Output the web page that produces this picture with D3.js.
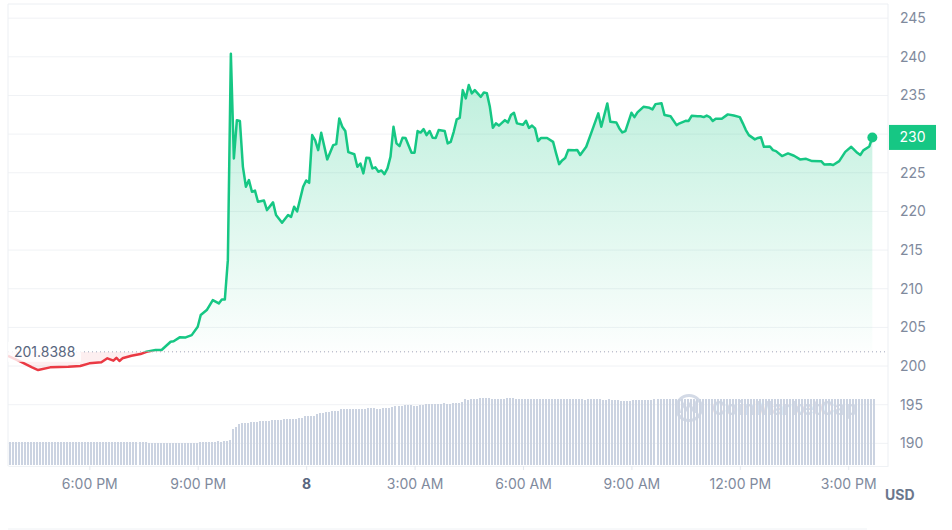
<!DOCTYPE html>
<html>
<head>
<meta charset="utf-8">
<script src="https://cdn.jsdelivr.net/npm/d3@7"></script>
<style>
  html, body { margin: 0; padding: 0; background: #fff; }
  svg { display: block; font-family: Inter, "Noto Sans", sans-serif; }
</style>
</head>
<body>
<div id="chart"></div>
<script>
// price points (clock time, USD) - 7th 15:45 to 8th 15:40
const priceTimes = [
  "15:45","16:05","16:25","16:35","16:55","17:25","17:45","18:00","18:20","18:30","18:40","18:45","18:50","18:55",
  "19:10","19:25","19:35","19:50","20:00","20:15","20:20","20:30","20:40","20:50","21:00","21:05","21:15","21:25",
  "21:35","21:40","21:45","21:50","21:55","22:00","22:05","22:10","22:15","22:20","22:25","22:30","22:35","22:40",
  "22:50","22:55","23:05","23:10","23:20","23:30","23:35","23:40","23:45","23:55","00:00","00:05","00:10","00:15",
  "00:20","00:25","00:35","00:45","00:50","00:55","01:00","01:05","01:10","01:20","01:25","01:30","01:35","01:40",
  "01:45","01:50","01:55","02:00","02:05","02:10","02:15","02:20","02:25","02:30","02:35","02:40","02:45","02:55",
  "03:00","03:05","03:10","03:15","03:20","03:25","03:30","03:35","03:40","03:50","03:55","04:00","04:05","04:10",
  "04:15","04:20","04:25","04:30","04:35","04:40","04:50","04:55","05:00","05:05","05:10","05:15","05:20","05:30",
  "05:35","05:40","05:45","05:50","06:00","06:05","06:10","06:15","06:20","06:25","06:30","06:40","06:50","06:55",
  "07:00","07:05","07:10","07:15","07:25","07:30","07:35","07:45","07:55","08:05","08:10","08:20","08:25","08:35",
  "08:40","08:45","08:50","09:00","09:05","09:10","09:20","09:30","09:35","09:40","09:50","09:55","10:05","10:15",
  "10:20","10:30","10:35","10:40","10:50","10:55","11:00","11:05","11:10","11:15","11:20","11:30","11:40","11:50",
  "12:00","12:05","12:10","12:15","12:25","12:30","12:35","12:40","12:50","12:55","13:00","13:10","13:20","13:30",
  "13:40","13:50","14:00","14:15","14:20","14:30","14:35","14:45","14:55","15:05","15:15","15:20","15:25","15:35",
  "15:40"
];
const prices = [
  201.3,200.6,199.83,199.48,199.83,199.9,200.0,200.35,200.48,201.0,200.69,201.07,200.65,201.0,
  201.33,201.55,201.85,202.07,202.07,203.14,203.2,203.71,203.7,204.0,205.08,206.6,207.24,208.53,
  208.1,208.6,208.6,213.7,240.4,226.86,231.8,231.7,225.77,223.19,224.05,222.54,222.7,221.25,
  221.4,220.17,221.17,219.53,218.53,219.53,219.3,220.6,220.0,223.19,224.0,223.7,229.87,229.2,
  227.93,230.17,226.73,228.58,228.7,232.03,230.95,230.4,227.67,227.4,225.77,226.2,224.92,226.94,
  226.9,225.57,225.7,225.13,225.3,224.83,225.57,227.07,230.95,228.8,228.45,229.52,229.5,227.58,
  227.6,230.39,230.2,230.65,229.87,230.39,229.52,229.5,230.52,230.4,228.8,229.0,230.3,231.9,
  232.1,235.69,234.62,236.34,235.26,235.69,234.82,235.39,235.3,233.53,230.82,231.39,231.1,231.81,
  231.5,232.46,232.76,231.39,231.2,231.72,230.8,231.1,230.74,229.1,229.5,229.5,229.0,227.5,
  226.12,226.6,226.9,227.93,227.9,227.95,227.3,228.36,230.52,232.68,230.95,233.97,231.59,231.5,
  230.74,230.22,230.4,232.76,232.2,232.81,233.53,233.4,233.2,233.88,234.0,232.46,232.3,231.16,
  231.4,231.72,231.7,232.37,232.3,232.3,232.2,232.4,232.2,231.7,232.0,232.0,232.55,232.4,
  232.2,231.39,230.52,229.87,229.32,229.5,229.6,228.36,228.4,227.93,227.8,227.16,227.5,227.2,
  226.73,226.8,226.51,226.5,226.08,226.1,226.0,226.5,227.7,228.36,227.58,227.3,227.9,228.4,
  229.57
];

// 24h volume (millions USD), one bar per 5 minutes from 15:45
const volumes = [
  115,115,115,115,115,115,115,115,115,115,115,115,115,115,115,115,115,115,115,115,115,115,115,115,
  115,115,115,115,115,115,115,115,115,115,115,115,115,115,115,115,115,115,115,115,115,115,110,110,
  110,110,110,110,110,110,110,110,110,110,110,110,110,110,110,115,115,115,115,115,115,120,115,120,
  120,125,180,190,205,210,210,210,215,215,215,220,220,220,220,225,225,225,225,230,230,230,230,230,
  235,235,245,245,245,245,255,260,260,265,265,270,270,270,280,280,280,280,280,280,280,280,280,285,
  285,285,280,280,285,285,285,290,295,295,295,300,300,300,295,295,300,300,305,305,305,305,305,305,
  310,305,305,310,310,310,315,330,325,330,330,330,335,335,335,335,330,330,330,330,330,335,335,335,
  330,330,330,330,330,330,330,330,330,330,330,330,330,330,330,330,330,330,330,330,330,330,330,325,
  330,330,330,330,330,325,325,330,325,325,325,320,320,320,320,325,325,325,325,325,325,325,330,330,
  330,330,330,330,330,330,330,330,330,330,330,330,330,330,330,330,330,330,330,330,330,330,330,330,
  330,330,330,330,330,330,330,330,330,330,330,330,330,330,330,330,330,330,330,330,330,330,330,330,
  330,330,330,330,330,330,330,330,330,330,330,330,330,330,330,330,330,330,330,330,330,330,330,330
];

const openPrice = 201.8388;
const priceTicks = [190, 195, 200, 205, 210, 215, 220, 225, 230, 235, 240, 245];
const timeTicks = ["18:00", "21:00", "00:00", "03:00", "06:00", "09:00", "12:00", "15:00"];
const timeTickLabels = ["6:00 PM", "9:00 PM", "8", "3:00 AM", "6:00 AM", "9:00 AM", "12:00 PM", "3:00 PM"];

// clock strings -> dates, rolling over to the 8th after midnight
function toDates(list) {
  let day = 7, prev = -1;
  return list.map(s => {
    const [h, m] = s.split(":").map(Number);
    if (h * 60 + m < prev) day++;
    prev = h * 60 + m;
    return new Date(2023, 10, day, h, m);
  });
}

const W = 952, H = 530;
const plotL = 8, plotR = 888, plotT = 5, plotB = 465;

const data = toDates(priceTimes).map((t, i) => ({ t: t, p: prices[i] }));
const volStart = new Date(2023, 10, 7, 15, 45);
const volData = volumes.map((v, i) => ({ t: d3.timeMinute.offset(volStart, i * 5), v: v }));
const last = data[data.length - 1];

const x = d3.scaleTime()
  .domain([new Date(2023, 10, 7, 15, 45), new Date(2023, 10, 8, 16, 6)])
  .range([plotL, plotR]);
const y = d3.scaleLinear().domain([187.2, 246.7]).range([plotB, plotT]);
const yVol = d3.scaleLinear().domain([0, 400]).range([plotB, plotB - 80]);

const svg = d3.select("#chart").append("svg")
  .attr("width", W).attr("height", H);

const defs = svg.append("defs");
const grad = defs.append("linearGradient")
  .attr("id", "upFill")
  .attr("gradientUnits", "userSpaceOnUse")
  .attr("x1", 0).attr("x2", 0)
  .attr("y1", y(240)).attr("y2", y(openPrice));
grad.append("stop").attr("offset", "0%").attr("stop-color", "#16c784").attr("stop-opacity", 0.3);
grad.append("stop").attr("offset", "100%").attr("stop-color", "#16c784").attr("stop-opacity", 0.01);

defs.append("clipPath").attr("id", "above")
  .append("rect").attr("x", plotL).attr("y", 0)
  .attr("width", plotR - plotL).attr("height", y(openPrice));
defs.append("clipPath").attr("id", "below")
  .append("rect").attr("x", plotL).attr("y", y(openPrice))
  .attr("width", plotR - plotL).attr("height", plotB - y(openPrice));

// grid + frame
svg.append("g").selectAll("line")
  .data(priceTicks)
  .enter().append("line")
  .attr("x1", plotL).attr("x2", plotR)
  .attr("y1", d => y(d)).attr("y2", d => y(d))
  .attr("stroke", "#f0f2f5");

svg.append("path")
  .attr("d", `M${plotL},${plotB + 1}V${plotT - 1}H${plotR}V${plotB + 1}`)
  .attr("fill", "none").attr("stroke", "#eceff3");

svg.append("line")
  .attr("x1", plotL).attr("x2", 867).attr("y1", 529).attr("y2", 529)
  .attr("stroke", "#eff2f5");

// watermark
const wm = svg.append("g").attr("opacity", 0.9);
wm.append("circle").attr("cx", 689).attr("cy", 408).attr("r", 12.5)
  .attr("fill", "none").attr("stroke", "#cfd6e4").attr("stroke-width", 3);
wm.append("path").attr("d", "M681,413 l2,-9 l3,6 l3,-6 l3,6 l3,-6 l1,9")
  .attr("fill", "none").attr("stroke", "#cfd6e4").attr("stroke-width", 2.2);
wm.append("text").attr("x", 712).attr("y", 408).attr("dy", "0.35em")
  .attr("fill", "#cfd6e4").style("font-size", "19px").style("font-weight", 700)
  .text("CoinMarketCap");

// volume bars
svg.append("g").selectAll("rect")
  .data(volData)
  .enter().append("rect")
  .attr("x", d => Math.round(x(d.t)) + 1)
  .attr("width", 2)
  .attr("y", d => yVol(d.v))
  .attr("height", d => plotB - yVol(d.v))
  .attr("fill", "#cbd3e1");

// price area + line, green above open, red below
const area = d3.area().x(d => x(d.t)).y0(y(openPrice)).y1(d => y(d.p));
const line = d3.line().x(d => x(d.t)).y(d => y(d.p));

svg.append("path").datum(data)
  .attr("d", area).attr("fill", "url(#upFill)").attr("clip-path", "url(#above)");
svg.append("path").datum(data)
  .attr("d", area).attr("fill", "rgba(234,57,67,0.08)").attr("clip-path", "url(#below)");

svg.append("path").datum(data)
  .attr("d", line).attr("fill", "none").attr("stroke", "#16c784")
  .attr("stroke-width", 2.5).attr("stroke-linejoin", "round").attr("clip-path", "url(#above)");
svg.append("path").datum(data)
  .attr("d", line).attr("fill", "none").attr("stroke", "#ea3943")
  .attr("stroke-width", 2.5).attr("stroke-linejoin", "round").attr("clip-path", "url(#below)");

// open price reference
svg.append("line")
  .attr("x1", plotL).attr("x2", plotR)
  .attr("y1", y(openPrice)).attr("y2", y(openPrice))
  .attr("stroke", "#a1a7bb").attr("stroke-dasharray", "1 3");
svg.append("rect")
  .attr("x", plotL).attr("y", y(openPrice) - 10)
  .attr("width", 73).attr("height", 20)
  .attr("fill", "#fff").attr("opacity", 0.8);
svg.append("text")
  .attr("x", 14).attr("y", y(openPrice)).attr("dy", "0.35em")
  .attr("fill", "#58667e").style("font-size", "14px")
  .text(openPrice);

// last point
svg.append("circle")
  .attr("cx", x(last.t)).attr("cy", y(last.p)).attr("r", 5)
  .attr("fill", "#16c784");

// right price axis (the tick hidden under the live price tag is skipped)
const yAxis = svg.append("g")
  .attr("transform", `translate(${plotR},0)`)
  .call(d3.axisRight(y)
    .tickValues(priceTicks.filter(d => Math.abs(y(d) - y(last.p)) > 14))
    .tickSize(0).tickPadding(12));
yAxis.select(".domain").remove();
yAxis.selectAll("text")
  .attr("fill", "#808a9d").style("font-size", "14px").style("font-family", "Inter, sans-serif");

svg.append("rect")
  .attr("x", plotR + 1).attr("y", y(last.p) - 12.5)
  .attr("width", 47).attr("height", 25)
  .attr("fill", "#16c784");
svg.append("text")
  .attr("x", plotR + 24.5).attr("y", y(last.p)).attr("dy", "0.35em")
  .attr("text-anchor", "middle").attr("fill", "#fff").style("font-size", "14px")
  .text(d3.format(".0f")(last.p));

// bottom time axis
const xAxis = svg.append("g")
  .attr("transform", `translate(0,${plotB + 1})`)
  .call(d3.axisBottom(x)
    .tickValues(toDates(timeTicks))
    .tickFormat((d, i) => timeTickLabels[i])
    .tickSize(4).tickSizeOuter(0).tickPadding(9));
xAxis.select(".domain").attr("stroke", "#eff2f5");
xAxis.selectAll(".tick line").attr("stroke", "#e3e7ed");
xAxis.selectAll("text")
  .attr("fill", d => d.getHours() === 0 ? "#58667e" : "#808a9d")
  .style("font-weight", d => d.getHours() === 0 ? 700 : 400)
  .style("font-size", "14px").style("font-family", "Inter, sans-serif");

svg.append("text")
  .attr("x", 885).attr("y", 495).attr("dy", "0.35em")
  .attr("fill", "#6b778c").style("font-size", "14px").style("font-weight", 700)
  .text("USD");
</script>
</body>
</html>
